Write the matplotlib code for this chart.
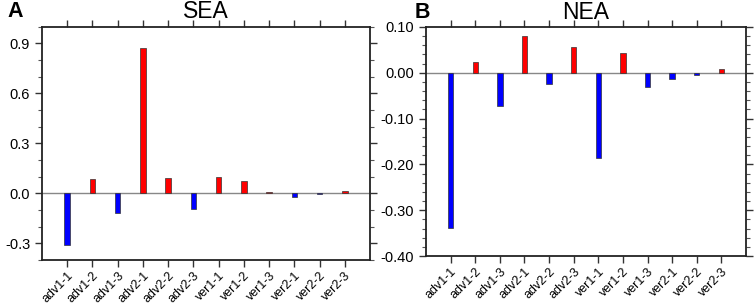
import numpy as np
import matplotlib.pyplot as plt
from matplotlib.ticker import MultipleLocator, FormatStrFormatter

labels = ['adv1-1', 'adv1-2', 'adv1-3', 'adv2-1', 'adv2-2', 'adv2-3',
          'ver1-1', 'ver1-2', 'ver1-3', 'ver2-1', 'ver2-2', 'ver2-3']
sea = [-0.31, 0.084, -0.116, 0.87, 0.09, -0.092, 0.098, 0.076, 0.01, -0.022, -0.004, 0.016]
nea = [-0.339, 0.0226, -0.072, 0.0796, -0.0255, 0.056, -0.185, 0.043, -0.030, -0.013, -0.004, 0.009]

plt.rcParams['font.family'] = ['Liberation Sans', 'DejaVu Sans']

fig = plt.figure(figsize=(7.54, 3.06), dpi=100)
axA = fig.add_axes([0.0557, 0.150, 0.435, 0.763])
axB = fig.add_axes([0.565, 0.163, 0.4244, 0.749])

def draw_panel(ax, vals, ylim, major, minor, fmt, letter, title, lx):
    x = np.arange(1, len(vals) + 1)
    cols = ['#ff0000' if v > 0 else '#0000ff' for v in vals]
    ax.bar(x, vals, width=0.22, color=cols, edgecolor='#333333', linewidth=0.5, zorder=3)
    ax.axhline(0, color='#888888', linewidth=1.0, zorder=2)
    ax.set_xlim(0, 13)
    ax.set_ylim(*ylim)
    ax.set_xticks(x)
    ax.set_xticklabels(labels, rotation=45, ha='right', rotation_mode='anchor', fontsize=9)
    ax.yaxis.set_major_locator(MultipleLocator(major))
    ax.yaxis.set_minor_locator(MultipleLocator(minor))
    ax.yaxis.set_major_formatter(FormatStrFormatter(fmt))
    ax.tick_params(axis='y', which='both', direction='out', left=True, right=True, labelsize=10.5)
    ax.tick_params(axis='x', which='both', direction='out', top=True, bottom=True, pad=2)
    ax.tick_params(which='major', length=5, width=1, color='#333333')
    ax.tick_params(which='minor', length=3, width=0.8, color='#555555')
    for s in ax.spines.values():
        s.set_linewidth(1.3)
        s.set_color('#222222')
    ax.text(0.5, 1.065, title, transform=ax.transAxes, fontsize=16.5,
            ha='center', va='center')
    ax.text(lx, 1.065, letter, transform=ax.transAxes, fontsize=15.5, fontweight='bold',
            ha='left', va='center')

draw_panel(axA, sea, (-0.4, 1.0), 0.3, 0.1, '%.1f', 'A', 'SEA', -0.104)
draw_panel(axB, nea, (-0.4, 0.1), 0.1, 0.02, '%.2f', 'B', 'NEA', -0.036)

fig.savefig('out.png', dpi=100)
